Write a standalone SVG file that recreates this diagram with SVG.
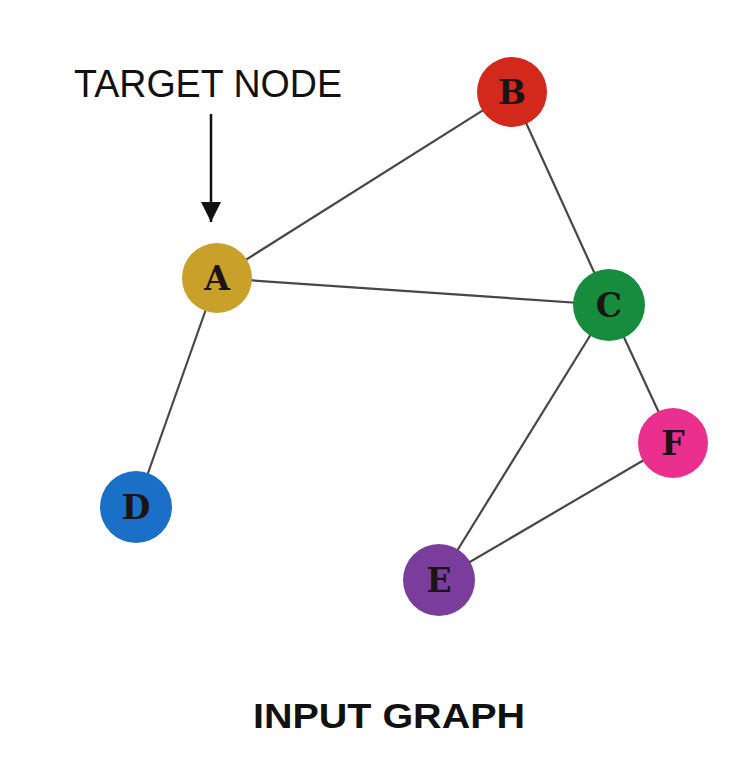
<svg xmlns="http://www.w3.org/2000/svg" width="754" height="772" viewBox="0 0 754 772">
<defs>
<style>
.edge{stroke:#474747;stroke-width:2.2;fill:none}
.lbl{font-family:"DejaVu Serif","Liberation Serif",serif;font-weight:bold;font-size:33px;fill:#1c1414;text-anchor:middle}
.cap{font-family:"Liberation Sans",Arial,sans-serif;fill:#111}
</style>
<marker id="ah" viewBox="0 0 10 10" refX="10" refY="5" markerWidth="20" markerHeight="20" markerUnits="userSpaceOnUse" orient="auto">
<path d="M0,0 L10,5 L0,10 z" fill="#111"/>
</marker>
</defs>
<rect width="754" height="772" fill="#fff"/>
<g id="connectors">
<line class="edge" x1="217" y1="278" x2="512" y2="92"/>
<line class="edge" x1="217" y1="278" x2="609" y2="305"/>
<line class="edge" x1="217" y1="278" x2="136" y2="507"/>
<line class="edge" x1="512" y1="92" x2="609" y2="305"/>
<line class="edge" x1="609" y1="305" x2="439" y2="580"/>
<line class="edge" x1="609" y1="305" x2="673" y2="443"/>
<line class="edge" x1="439" y1="580" x2="673" y2="443"/>
<line x1="211" y1="114" x2="211" y2="222" stroke="#111" stroke-width="2.5" marker-end="url(#ah)"/>
</g>
<g id="nodeA"><circle cx="217" cy="278" r="35" fill="#c9a02a"/><text class="lbl" x="217" y="290">A</text></g>
<g id="nodeB"><circle cx="512" cy="92" r="35" fill="#d3281c"/><text class="lbl" x="512" y="104">B</text></g>
<g id="nodeC"><circle cx="609" cy="305" r="36" fill="#168c3c"/><text class="lbl" x="609" y="317">C</text></g>
<g id="nodeD"><circle cx="136" cy="507" r="36" fill="#1a6fc6"/><text class="lbl" x="136" y="519">D</text></g>
<g id="nodeE"><circle cx="439" cy="580" r="36" fill="#7a3d9c"/><text class="lbl" x="439" y="592">E</text></g>
<g id="nodeF"><circle cx="673" cy="443" r="35" fill="#ea2f8f"/><text class="lbl" x="673" y="455">F</text></g>
<text class="cap" x="74" y="97" font-size="39" textLength="268" lengthAdjust="spacingAndGlyphs">TARGET NODE</text>
<text class="cap" x="253" y="728" font-size="35" font-weight="bold" textLength="272" lengthAdjust="spacingAndGlyphs">INPUT GRAPH</text>
</svg>
